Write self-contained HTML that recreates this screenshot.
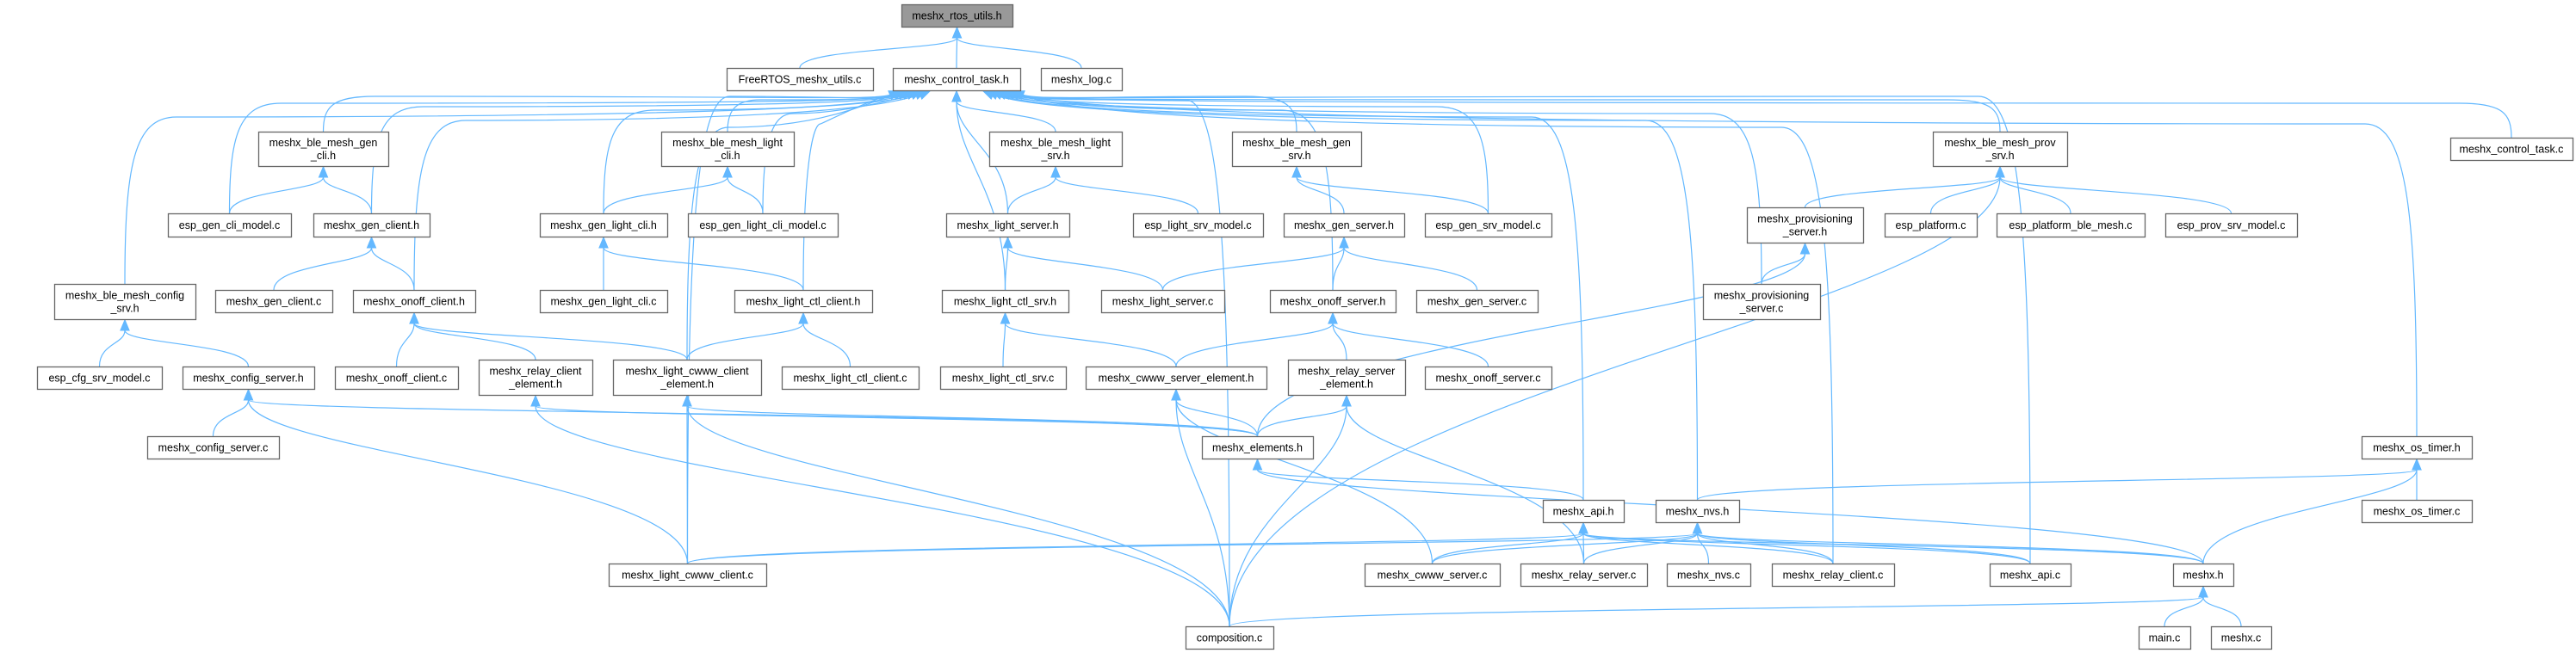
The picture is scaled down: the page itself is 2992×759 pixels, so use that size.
<!DOCTYPE html>
<html><head><meta charset="utf-8">
<style>
html,body{margin:0;padding:0;background:#fff;}
svg{display:block;}
text{font-family:"Liberation Sans",sans-serif;font-size:12.5px;fill:#000;}
</style></head>
<body>
<svg id="g" xmlns="http://www.w3.org/2000/svg" width="2992" height="759" viewBox="0 0 2992 759">
<g id="edges" fill="none" stroke="#63b8ff" stroke-width="1.2"></g>
<g id="heads" fill="#63b8ff" stroke="#63b8ff" stroke-width="1"></g>
<g id="nodes"></g>
</svg>
<script>
var N={
1:[1047,1176,5,31,"meshx_rtos_utils.h"],
2:[844,1014,79,105,"FreeRTOS_meshx_utils.c"],
3:[1037,1185,79,105,"meshx_control_task.h"],
4:[1209,1303,79,105,"meshx_log.c"],
5:[300,451,153,193,"meshx_ble_mesh_gen|_cli.h"],
6:[768,922,153,193,"meshx_ble_mesh_light|_cli.h"],
7:[1149,1303,153,193,"meshx_ble_mesh_light|_srv.h"],
8:[1431,1581,153,193,"meshx_ble_mesh_gen|_srv.h"],
9:[2245,2401,153,193,"meshx_ble_mesh_prov|_srv.h"],
10:[2846,2988,160,186,"meshx_control_task.c"],
11:[195,338,248,275,"esp_gen_cli_model.c"],
12:[364,499,248,275,"meshx_gen_client.h"],
13:[627,775,248,275,"meshx_gen_light_cli.h"],
14:[799,973,248,275,"esp_gen_light_cli_model.c"],
15:[1099,1242,248,275,"meshx_light_server.h"],
16:[1316,1467,248,275,"esp_light_srv_model.c"],
17:[1491,1631,248,275,"meshx_gen_server.h"],
18:[1655,1802,248,275,"esp_gen_srv_model.c"],
19:[2029,2164,241,282,"meshx_provisioning|_server.h"],
20:[2189,2296,248,275,"esp_platform.c"],
21:[2319,2491,248,275,"esp_platform_ble_mesh.c"],
22:[2515,2668,248,275,"esp_prov_srv_model.c"],
23:[63,227,330,371,"meshx_ble_mesh_config|_srv.h"],
24:[250,386,337,363,"meshx_gen_client.c"],
25:[410,552,337,363,"meshx_onoff_client.h"],
26:[627,775,337,363,"meshx_gen_light_cli.c"],
27:[853,1013,337,363,"meshx_light_ctl_client.h"],
28:[1094,1241,337,363,"meshx_light_ctl_srv.h"],
29:[1279,1422,337,363,"meshx_light_server.c"],
30:[1475,1621,337,363,"meshx_onoff_server.h"],
31:[1645,1786,337,363,"meshx_gen_server.c"],
32:[1978,2114,330,371,"meshx_provisioning|_server.c"],
33:[43,188,426,452,"esp_cfg_srv_model.c"],
34:[212,365,426,452,"meshx_config_server.h"],
35:[389,532,426,452,"meshx_onoff_client.c"],
36:[556,688,418,459,"meshx_relay_client|_element.h"],
37:[712,884,418,459,"meshx_light_cwww_client|_element.h"],
38:[908,1067,426,452,"meshx_light_ctl_client.c"],
39:[1092,1238,426,452,"meshx_light_ctl_srv.c"],
40:[1261,1471,426,452,"meshx_cwww_server_element.h"],
41:[1496,1632,418,459,"meshx_relay_server|_element.h"],
42:[1655,1802,426,452,"meshx_onoff_server.c"],
43:[171,324,507,533,"meshx_config_server.c"],
44:[1396,1525,507,533,"meshx_elements.h"],
45:[2743,2871,507,533,"meshx_os_timer.h"],
46:[1792,1886,581,607,"meshx_api.h"],
47:[1923,2020,581,607,"meshx_nvs.h"],
48:[2743,2871,581,607,"meshx_os_timer.c"],
49:[707,890,655,681,"meshx_light_cwww_client.c"],
50:[1585,1742,655,681,"meshx_cwww_server.c"],
51:[1766,1913,655,681,"meshx_relay_server.c"],
52:[1936,2033,655,681,"meshx_nvs.c"],
53:[2058,2200,655,681,"meshx_relay_client.c"],
54:[2311,2405,655,681,"meshx_api.c"],
55:[2524,2594,655,681,"meshx.h"],
56:[1377,1479,728,754,"composition.c"],
57:[2484,2544,728,754,"main.c"],
58:[2568,2638,728,754,"meshx.c"]
};
var E=[[2,1],[3,1],[4,1],
[5,3],[6,3],[7,3],[8,3],[9,3],[10,3],[11,3],[12,3],[13,3],[14,3],[15,3],[18,3],[23,3],[25,3],[27,3],[28,3],[30,3],[32,3],[37,3],[46,3],[47,3],[45,3],[49,3],[53,3],[54,3],[56,3],
[11,5],[12,5],[24,12],[25,12],[13,6],[14,6],[26,13],[27,13],[15,7],[16,7],[28,15],[29,15],[17,8],[18,8],[29,17],[30,17],[31,17],
[19,9],[20,9],[21,9],[22,9],[56,9],[32,19],[44,19],[33,23],[34,23],[43,34],[44,34],[49,34],
[35,25],[36,25],[37,25],[37,27],[38,27],[39,28],[40,28],[40,30],[41,30],[42,30],
[44,36],[56,36],[44,37],[49,37],[56,37],[44,40],[50,40],[56,40],[44,41],[51,41],[56,41],
[46,44],[55,44],[47,45],[55,45],[48,45],
[49,46],[50,46],[51,46],[53,46],[54,46],[55,46],
[49,47],[50,47],[51,47],[52,47],[53,47],[54,47],[55,47],
[57,55],[58,55],[56,55]];
var NS="http://www.w3.org/2000/svg";
function el(t,a,p){var e=document.createElementNS(NS,t);for(var k in a)e.setAttribute(k,a[k]);p.appendChild(e);return e;}
var eg=document.getElementById("edges"),hg=document.getElementById("heads"),ng=document.getElementById("nodes");
var sc={L:0,R:0};
E.forEach(function(ed){
 var c=N[ed[0]],p=N[ed[1]],x1,y1,d,tx,ty,tipx,tipy;
 var cx=(c[0]+c[1])/2,px=(p[0]+p[1])/2;
 if(ed[1]==3 && (cx<p[0]-60 || cx>p[1]+60)){
  var left=cx<p[0];
  var k=left?sc.L++:sc.R++;
  var dir=left?1:-1;
  tipx=left?(p[0]+8+(k%8)*5):(p[1]-8-(k%8)*5);
  tipy=p[3]+1;
  var vx=dir*20,vy=-8,len=Math.sqrt(vx*vx+vy*vy);
  tx=vx/len;ty=vy/len;
  var ex=tipx-tx*12,ey=tipy-ty*12;
  x1=cx;y1=c[2];
  var midy=112+(k%10)*4;
  if(y1<midy+8){midy=y1-10;}
  var mx=x1+dir*Math.min(60,Math.abs(ex-x1)*0.2);
  d="M"+x1+","+y1+" C"+x1+","+(midy+(y1-midy)*0.3)+" "+(x1+dir*10)+","+midy+" "+mx+","+midy+
    " C"+(ex-dir*80)+","+midy+" "+(ex-dir*25)+","+(ey+6)+" "+ex+","+ey;
 } else if(c[2]>p[3]+5){
  x1=cx;y1=c[2];tipx=px;tipy=p[3]+1;
  var h=(y1-tipy)*0.5;var ey=tipy+12;
  d="M"+x1+","+y1+" C"+x1+","+(y1-h)+" "+tipx+","+(ey+h*0.6)+" "+tipx+","+ey;
  tx=0;ty=-1;
 }else{
  y1=(c[2]+c[3])/2;tipy=(p[2]+p[3])/2;
  if(cx<px){x1=c[1];tipx=p[0]-1;}else{x1=c[0];tipx=p[1]+1;}
  var dir=tipx>x1?1:-1;var ex=tipx-dir*12;
  d="M"+x1+","+y1+" C"+((x1+ex)/2)+","+y1+" "+((x1+ex)/2)+","+tipy+" "+ex+","+tipy;
  tx=dir;ty=0;
 }
 el("path",{d:d},eg);
 var bx=tipx-tx*12,by=tipy-ty*12,nx=-ty*5,ny=tx*5;
 el("polygon",{points:tipx+","+tipy+" "+(bx+nx)+","+(by+ny)+" "+(bx-nx)+","+(by-ny)},hg);
});
for(var k in N){
 var n=N[k];
 el("rect",{x:n[0]+0.5,y:n[2]+0.5,width:n[1]-n[0],height:n[3]-n[2],fill:(k=="1"?"#999999":"#ffffff"),stroke:"#666666","stroke-width":"1.3"},ng);
 var lines=n[4].split("|"),cx=(n[0]+n[1])/2,cy=(n[2]+n[3])/2;
 lines.forEach(function(s,i){
  var y=cy+4.5+(i-(lines.length-1)/2)*15;
  var t=el("text",{x:cx,y:y,"text-anchor":"middle"},ng);t.textContent=s;
 });
}
</script>
</body></html>
